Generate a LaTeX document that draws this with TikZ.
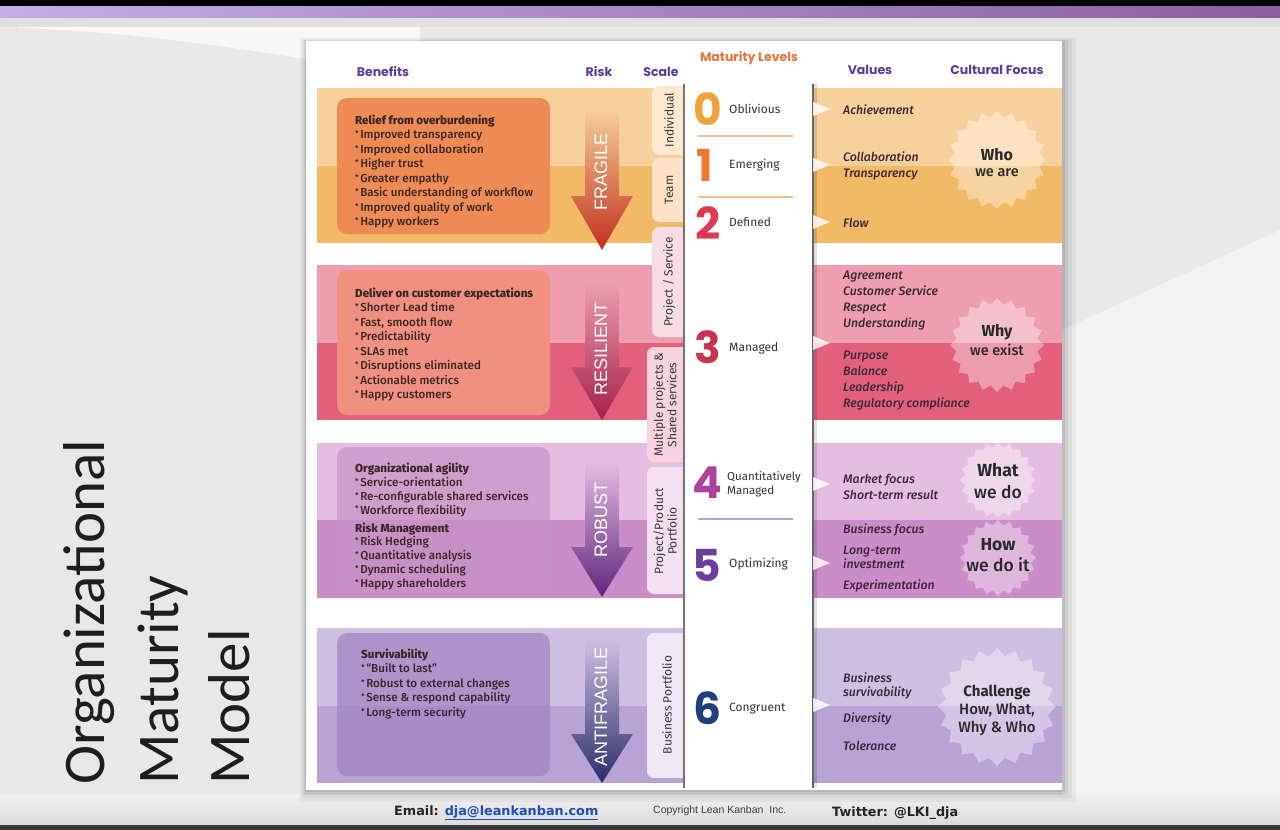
\documentclass[tikz,border=0pt]{standalone}
\usepackage{fontspec}
\setmainfont{Fira Sans}
\newfontfamily\firam{Fira Sans Medium}
\newfontfamily\popp{Poppins}
\newfontfamily\arialf{Liberation Sans}
\newfontfamily\dejavuf{DejaVu Sans}
\newfontfamily\carlf{Carlito}
\usetikzlibrary{shapes.geometric}
\newcommand\fs[2]{\fontsize{#1}{#2}\selectfont}
\newcommand\bu{\raisebox{0.35ex}{\fs{8}{8}*}\hspace{1.5pt}}
\definecolor{bgc}{HTML}{E8E8E8}
\definecolor{bgtop}{HTML}{E0E0E0}
\definecolor{barl}{HTML}{C4ADE8}
\definecolor{barr}{HTML}{8A5FA2}
\definecolor{hdrc}{HTML}{5A3A9C}
\definecolor{mlvc}{HTML}{E8743B}
\definecolor{bAu}{HTML}{F7D19B}
\definecolor{bAl}{HTML}{F2BA66}
\definecolor{bAx}{HTML}{EE8B55}
\definecolor{bBu}{HTML}{EE9EAF}
\definecolor{bBl}{HTML}{E3607D}
\definecolor{bBx}{HTML}{F0907F}
\definecolor{bCu}{HTML}{E4BEE0}
\definecolor{bCl}{HTML}{CB8DC8}
\definecolor{bCx}{HTML}{C693C5}
\definecolor{bDu}{HTML}{CEC0E1}
\definecolor{bDl}{HTML}{B8A3D4}
\definecolor{bDx}{HTML}{A084C3}
\definecolor{aAm}{HTML}{E66A35}
\definecolor{aAd}{HTML}{C0301E}
\definecolor{aBm}{HTML}{D9466E}
\definecolor{aBd}{HTML}{A3204A}
\definecolor{aCm}{HTML}{A45AAE}
\definecolor{aCd}{HTML}{5E2580}
\definecolor{aDm}{HTML}{7E6AAE}
\definecolor{aDd}{HTML}{2A2C6C}
\definecolor{n0c}{HTML}{F2A23A}
\definecolor{n1c}{HTML}{EC7A30}
\definecolor{n2c}{HTML}{DD3A50}
\definecolor{n3c}{HTML}{C8354F}
\definecolor{n4c}{HTML}{B0409E}
\definecolor{n5c}{HTML}{6B3E9E}
\definecolor{n6c}{HTML}{1F3F80}
\definecolor{sepo}{HTML}{F3C08F}
\definecolor{sepp}{HTML}{B5A3D3}
\definecolor{valc}{HTML}{3B2A38}
\definecolor{bodyc}{HTML}{3A2828}
\definecolor{lblc}{HTML}{333333}
\definecolor{tabc}{HTML}{3A3A3A}
\definecolor{bursttc}{HTML}{2A2A2A}
\definecolor{titc}{HTML}{1E1E1E}
\definecolor{linkc}{HTML}{1F4EBD}
\definecolor{tab1}{HTML}{FBE8D0}
\definecolor{tab2}{HTML}{FBE2C6}
\definecolor{tab3}{HTML}{F8DCE4}
\definecolor{tab4}{HTML}{F6D3DE}
\definecolor{tab5}{HTML}{F3E0F0}
\definecolor{tab6}{HTML}{EEE8F5}
\begin{document}
\begin{tikzpicture}[x=1pt,y=-1pt,
  hdrtxt/.style={font=\popp\bfseries\fs{12.5}{14}, text=hdrc, inner sep=0},
  boxtxt/.style={anchor=north west, inner sep=0, align=left, text=bodyc, font=\firam\fs{11.6}{14.5}},
  valtxt/.style={anchor=west, inner sep=0, align=left, text=valc, font=\firam\itshape\fs{12.3}{16}},
  lvlnum/.style={font=\popp\bfseries\fs{44}{44}, inner sep=0},
  lvllab/.style={anchor=west, inner sep=0, align=left, text=lblc, font=\fs{12}{13}},
  risklab/.style={rotate=90, text=white, font=\arialf\fs{18}{18}, inner sep=0},
  scaletab/.style={rotate=90, text=tabc, font=\fs{12}{13.5}, inner sep=0, align=center},
  burstshape/.style={star, star points=20, star point ratio=1.15, inner sep=0, fill=white, fill opacity=0.38, draw=none},
  bursttxt/.style={inner sep=0, text=bursttc, align=center},
  ptr/.style={fill=white, fill opacity=0.8}
]
\useasboundingbox (0,0) rectangle (1280,830);
% background
\fill[bgc] (0,0) rectangle (1280,830);
\fill[white!45!bgc] (1062,330) -- (1280,230) -- (1280,795) -- (1062,795) -- cycle;
\fill[bgtop] (0,17) rectangle (1280,27);
\fill[white!70!bgc] (18,27) -- (420,27) -- (420,80) .. controls (300,56) and (140,31) .. (18,28) -- cycle;
\fill[black] (0,0) rectangle (1280,6.5);
\shade[left color=barl, right color=barr] (0,6.5) rectangle (1280,17);
\shade[top color=bgc!70!white, bottom color=black!14] (0,795) rectangle (1280,825);
\fill[black!78] (0,825) rectangle (1280,830);
% card shadow and card
\fill[black,opacity=0.04] (300,37) rectangle (1076,802);
\fill[black,opacity=0.05] (302,39) rectangle (1072,798);
\fill[black,opacity=0.06] (304,40) rectangle (1068,795);
\fill[black,opacity=0.08] (305,41) rectangle (1065,792);
\fill[white] (306,41) rectangle (1062,790);
% bands
\fill[bAu] (317,88) rectangle (684,166);  \fill[bAl] (317,166) rectangle (684,243);
\fill[bAu] (813,88) rectangle (1062,166); \fill[bAl] (813,166) rectangle (1062,243);
\fill[bBu] (317,265) rectangle (684,343); \fill[bBl] (317,343) rectangle (684,420);
\fill[bBu] (813,265) rectangle (1062,343); \fill[bBl] (813,343) rectangle (1062,420);
\fill[bCu] (317,443) rectangle (684,520); \fill[bCl] (317,520) rectangle (684,598);
\fill[bCu] (813,443) rectangle (1062,520); \fill[bCl] (813,520) rectangle (1062,598);
\fill[bDu] (317,628) rectangle (684,706); \fill[bDl] (317,706) rectangle (684,783);
\fill[bDu] (813,628) rectangle (1062,706); \fill[bDl] (813,706) rectangle (1062,783);
% benefit boxes
\fill[bAx, rounded corners=10] (337,98) rectangle (550,234);
\fill[bBx, rounded corners=10] (337,270) rectangle (550,415);
\fill[bCx, rounded corners=10, fill opacity=0.7] (337,447) rectangle (550,592);
\fill[bDx, rounded corners=10, fill opacity=0.7] (337,633) rectangle (550,776);
% headers
\node[hdrtxt] (hb) at (383,72) {Benefits};
\node[hdrtxt] (hr) at (599,72) {Risk};
\node[hdrtxt] (hs) at (661,72) {Scale};
\node[hdrtxt, text=mlvc] (hm) at (749,58) {Maturity Levels};
\node[hdrtxt] (hv) at (870,70) {Values};
\node[hdrtxt] (hc) at (997,70) {Cultural Focus};
% benefit texts
\node[boxtxt] (tA) at (355,114.7) {\textbf{Relief from overburdening}\\
\bu Improved transparency\\ \bu Improved collaboration\\ \bu Higher trust\\ \bu Greater empathy\\
\bu Basic understanding of workflow\\ \bu Improved quality of work\\ \bu Happy workers};
\node[boxtxt] (tB) at (355,287.7) {\textbf{Deliver on customer expectations}\\
\bu Shorter Lead time\\ \bu Fast, smooth flow\\ \bu Predictability\\ \bu SLAs met\\
\bu Disruptions eliminated\\ \bu Actionable metrics\\ \bu Happy customers};
\node[boxtxt, font=\firam\fs{11.6}{13.9}] (tC) at (355,462.7) {\textbf{Organizational agility}\\
\bu Service-orientation\\ \bu Re-configurable shared services\\ \bu Workforce flexibility\\[4pt]
\textbf{Risk Management}\\ \bu Risk Hedging\\ \bu Quantitative analysis\\ \bu Dynamic scheduling\\ \bu Happy shareholders};
\node[boxtxt] (tD) at (361,648.7) {\textbf{Survivability}\\
\bu “Built to last”\\ \bu Robust to external changes\\ \bu Sense \& respond capability\\ \bu Long-term security};
% risk arrows
\shade[top color=bAu, middle color=aAm, bottom color=aAd]
  (585,108) -- (619,108) -- (619,196) -- (633,196) -- (602,250) -- (571,196) -- (585,196) -- cycle;
\shade[top color=bBu, middle color=aBm, bottom color=aBd]
  (585,283) -- (619,283) -- (619,367) -- (633,367) -- (602,420) -- (571,367) -- (585,367) -- cycle;
\shade[top color=bCu, middle color=aCm, bottom color=aCd]
  (585,462) -- (619,462) -- (619,547) -- (633,547) -- (602,597) -- (571,547) -- (585,547) -- cycle;
\shade[top color=bDu, middle color=aDm, bottom color=aDd]
  (585,640) -- (619,640) -- (619,734) -- (633,734) -- (602,783) -- (571,734) -- (585,734) -- cycle;
\node[risklab] (rA) at (601,172) {FRAGILE};
\node[risklab] (rB) at (601,349) {RESILIENT};
\node[risklab] (rC) at (601,520) {ROBUST};
\node[risklab] (rD) at (601,707) {ANTIFRAGILE};
% scale tabs
\begin{scope}
\clip (600,0) rectangle (684,830);
\fill[tab1, rounded corners=7] (652,86) rectangle (700,155);
\fill[tab2, rounded corners=7] (652,158) rectangle (700,222);
\fill[tab3, rounded corners=7] (652,227) rectangle (700,337);
\fill[tab4, rounded corners=7] (647,347) rectangle (700,462);
\fill[tab5, rounded corners=7] (647,467) rectangle (700,594);
\fill[tab6, rounded corners=7] (647,633) rectangle (700,778);
\end{scope}
\node[scaletab] (s1) at (669,120) {Individual};
\node[scaletab] (s2) at (669,190) {Team};
\node[scaletab] (s3) at (669,282) {Project / Service};
\node[scaletab] (s4) at (665,405) {Multiple projects \&\\Shared services};
\node[scaletab] (s5) at (665,531) {Project/Product\\Portfolio};
\node[scaletab] (s6) at (667,705) {Business Portfolio};
\draw[black!55, line width=1.2] (684,84) -- (684,788);
% maturity column edge
\fill[black, opacity=0.12] (813,84) rectangle (817,788);
\draw[black!60, line width=1.1] (813,84) -- (813,788);
% separators
\draw[sepo, line width=1.3] (698,136) -- (793,136);
\draw[sepo, line width=1.3] (698,197) -- (793,197);
\draw[sepp, line width=1.3] (698,519) -- (793,519);
% levels
\node[lvlnum, text=n0c] (n0) at (708,109) {0};
\node[lvlnum, text=n1c] (n1) at (705,165) {1};
\node[lvlnum, text=n2c] (n2) at (708,223) {2};
\node[lvlnum, text=n3c] (n3) at (708,347) {3};
\node[lvlnum, text=n4c] (n4) at (707,483) {4};
\node[lvlnum, text=n5c] (n5) at (707,565) {5};
\node[lvlnum, text=n6c] (n6) at (708,708) {6};
\node[lvllab] (l0) at (729,109) {Oblivious};
\node[lvllab] (l1) at (729,165) {Emerging};
\node[lvllab] (l2) at (729,222) {Defined};
\node[lvllab] (l3) at (729,348) {Managed};
\node[lvllab, font=\fs{11.5}{13.5}] (l4) at (727,484) {Quantitatively\\Managed};
\node[lvllab] (l5) at (729,564) {Optimizing};
\node[lvllab] (l6) at (729,709) {Congruent};
% pointers
\foreach \yy in {109,165,222,343,484,563,705}
  \fill[ptr] (813,\yy-7) -- (830,\yy) -- (813,\yy+7) -- cycle;
% starbursts
\node[burstshape, minimum size=98pt] (sA) at (997,160) {};
\node[burstshape, minimum size=94pt] (sB) at (997,345) {};
\node[burstshape, minimum size=76pt] (sC) at (998,480) {};
\node[burstshape, minimum size=76pt] (sD) at (998,558) {};
\node[burstshape, minimum size=118pt] (sE) at (997,707) {};
\node[bursttxt, font=\bfseries\fs{16}{18}] (wA1) at (997,155) {Who};
\node[bursttxt, font=\firam\fs{14.5}{16}] (wA2) at (997,173) {we are};
\node[bursttxt, font=\bfseries\fs{16}{18}] (wB1) at (997,332) {Why};
\node[bursttxt, font=\firam\fs{14.5}{16}] (wB2) at (997,350) {we exist};
\node[bursttxt, font=\bfseries\fs{17.5}{19}] (wC1) at (998,470) {What};
\node[bursttxt, font=\firam\fs{17.5}{19}] (wC2) at (998,492) {we do};
\node[bursttxt, font=\bfseries\fs{17.5}{19}] (wD1) at (998,545) {How};
\node[bursttxt, font=\firam\fs{17.5}{19}] (wD2) at (998,565) {we do it};
\node[bursttxt, font=\bfseries\fs{15}{17}] (wE1) at (997,692) {Challenge};
\node[bursttxt, font=\firam\fs{15}{17}] (wE2) at (997,710) {How, What,};
\node[bursttxt, font=\firam\fs{15}{17}] (wE3) at (997,728) {Why \& Who};
% values
\node[valtxt] (vA1) at (843,110) {Achievement};
\node[valtxt] (vA2) at (843,166) {Collaboration\\Transparency};
\node[valtxt] (vA3) at (843,223) {Flow};
\node[valtxt] (vB1) at (843,301) {Agreement\\Customer Service\\Respect\\Understanding};
\node[valtxt] (vB2) at (843,381) {Purpose\\Balance\\Leadership\\Regulatory compliance};
\node[valtxt] (vC1) at (843,487) {Market focus\\Short-term result};
\node[valtxt] (vC2) at (843,530) {Business focus};
\node[valtxt, font=\firam\itshape\fs{12.3}{14}] (vC3) at (843,557) {Long-term\\investment};
\node[valtxt] (vC4) at (843,586) {Experimentation};
\node[valtxt, font=\firam\itshape\fs{12.3}{14}] (vD1) at (843,686) {Business\\survivability};
\node[valtxt] (vD2) at (843,719) {Diversity};
\node[valtxt] (vD3) at (843,746) {Tolerance};
% title
\node[rotate=90, anchor=base west, inner sep=0, font=\carlf\fs{59}{60}, text=titc] (t1) at (104,785) {Organizational};
\node[rotate=90, anchor=base west, inner sep=0, font=\carlf\fs{59}{60}, text=titc] (t2) at (178,785) {Maturity};
\node[rotate=90, anchor=base west, inner sep=0, font=\carlf\fs{59}{60}, text=titc] (t3) at (249,785) {Model};
% footer
\node[anchor=west, inner sep=0, font=\dejavuf\bfseries\fs{12.8}{14}, text=black!85] (em) at (394,813) {Email: \textcolor{linkc}{\underline{dja@leankanban.com}}};
\node[anchor=west, inner sep=0, font=\arialf\fs{10.5}{12}, text=black!75] (cp) at (653,811) {Copyright Lean Kanban\ \ Inc.};
\node[anchor=west, inner sep=0, font=\dejavuf\bfseries\fs{12.8}{14}, text=black!85] (tw) at (832,813) {Twitter: @LKI\_dja};
\end{tikzpicture}
\end{document}
